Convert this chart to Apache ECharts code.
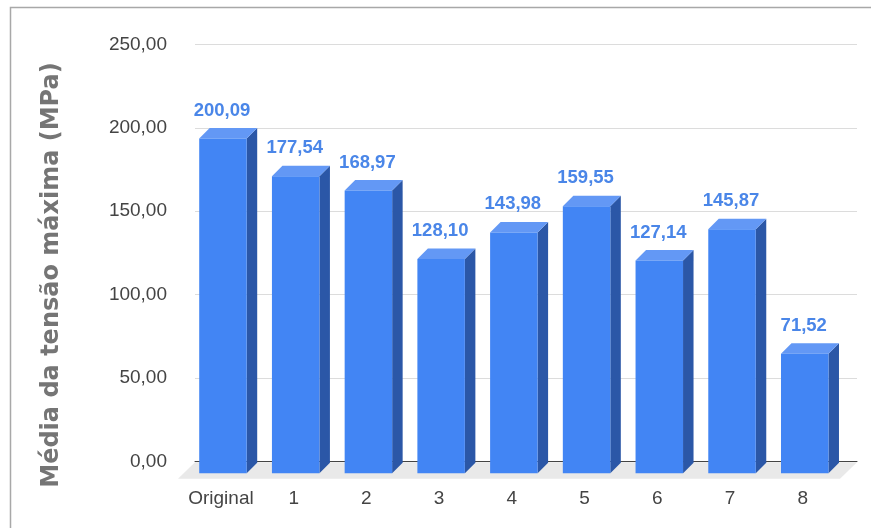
<!DOCTYPE html>
<html>
<head>
<meta charset="utf-8">
<script src="https://cdn.jsdelivr.net/npm/echarts@6/dist/echarts.min.js"></script>
<style>
  html, body { margin: 0; padding: 0; background: #ffffff; }
  #chart { width: 871px; height: 528px; }
</style>
</head>
<body>
<div id="chart"></div>
<script>
// Categories and mean peak stress per sample
const categories = ['Original', '1', '2', '3', '4', '5', '6', '7', '8'];
const values = [200.09, 177.54, 168.97, 128.10, 143.98, 159.55, 127.14, 145.87, 71.52];

// Value axis ticks
const yMin = 0;
const yMax = 250;
const yStep = 50;

const axisTitle = 'Média da tensão máxima (MPa)';

// Bar face colours and depth of the pseudo-3D extrusion
const FRONT = '#4285f4';
const SIDE = '#2b57a7';
const TOP = '#6398f5';
const LABEL_BLUE = '#4a86e8';
const DEPTH_X = 10.5;
const DEPTH_Y = 10.5;

function fmt(v) {
  return v.toFixed(2).replace('.', ',');
}

const chart = echarts.init(document.getElementById('chart'), null, { renderer: 'canvas' });

const option = {
  backgroundColor: '#ffffff',
  animation: false,
  grid: [
    // back wall with the gridlines
    { left: 195, right: 14, top: 44.3, bottom: 66.3 },
    // front plane where the bar faces sit
    { left: 184.6, right: 31.9, top: 55, bottom: 54.7 }
  ],
  xAxis: [
    {
      type: 'category', gridIndex: 0, data: categories,
      axisLine: { show: true, lineStyle: { color: '#444444', width: 1 } },
      axisTick: { show: false }, axisLabel: { show: false }, splitLine: { show: false }
    },
    {
      type: 'category', gridIndex: 1, data: categories,
      axisLine: { show: false }, axisTick: { show: false },
      axisLabel: {
        show: true, interval: 0, margin: 16, color: '#444444',
        fontFamily: 'Liberation Sans, Arial, sans-serif', fontSize: 19
      }
    }
  ],
  yAxis: [
    {
      type: 'value', gridIndex: 0, min: yMin, max: yMax, interval: yStep,
      axisLine: { show: false }, axisTick: { show: false },
      axisLabel: {
        margin: 28, color: '#444444',
        fontFamily: 'Liberation Sans, Arial, sans-serif', fontSize: 19,
        formatter: (v) => fmt(v)
      },
      splitLine: { show: true, lineStyle: { color: '#dcdcdc', width: 1 } }
    },
    {
      type: 'value', gridIndex: 1, min: yMin, max: yMax, interval: yStep, show: false
    }
  ],
  graphic: [
    {
      type: 'rect', z: 0, silent: true,
      shape: { x: 10.5, y: 7.5, width: 1000, height: 1000 },
      style: { fill: 'none', stroke: '#a8a8a8', lineWidth: 1.5 }
    },
    {
      type: 'text', z: 10, silent: true,
      x: 52, y: 275, rotation: Math.PI / 2,
      style: {
        text: axisTitle,
        fill: '#757575',
        font: 'bold 24px "DejaVu Sans", Verdana, sans-serif',
        textAlign: 'center', textVerticalAlign: 'middle'
      }
    }
  ],
  series: [
    {
      // floor under the bars
      type: 'custom', xAxisIndex: 0, yAxisIndex: 0, z: 1, silent: true,
      data: [[0, 0]],
      renderItem: function (params, api) {
        const cs = params.coordSys;
        const yb = cs.y + cs.height + 0.5;
        const dx = 17, dy = 16.5;
        return {
          type: 'polygon',
          shape: {
            points: [
              [cs.x, yb], [cs.x + cs.width, yb],
              [cs.x + cs.width - dx, yb + dy], [cs.x - dx, yb + dy]
            ]
          },
          style: { fill: '#e9e9e9' }
        };
      }
    },
    {
      type: 'custom', xAxisIndex: 1, yAxisIndex: 1, z: 5, silent: true,
      data: values.map((v, i) => [i, v]),
      encode: { x: 0, y: 1 },
      renderItem: function (params, api) {
        const i = api.value(0);
        const v = api.value(1);
        const base = api.coord([i, 0]);
        const top = api.coord([i, v]);
        const slot = api.size([1, 0])[0];
        const w = slot * 0.653;
        const x0 = base[0] - w / 2 + 2;
        const x1 = x0 + w;
        const yb = base[1];
        const yt = top[1];
        const d = DEPTH_X, e = DEPTH_Y;
        return {
          type: 'group',
          children: [
            {
              type: 'polygon',
              shape: { points: [[x1, yt], [x1 + d, yt - e], [x1 + d, yb - e], [x1, yb]] },
              style: { fill: SIDE }
            },
            {
              type: 'polygon',
              shape: { points: [[x0, yt], [x0 + d, yt - e], [x1 + d, yt - e], [x1, yt]] },
              style: { fill: TOP }
            },
            {
              type: 'rect',
              shape: { x: x0, y: yt, width: w, height: yb - yt },
              style: { fill: FRONT }
            },
            {
              type: 'text',
              x: base[0] + 1, y: yt - 28,
              style: {
                text: fmt(v),
                fill: LABEL_BLUE,
                font: 'bold 18.5px "Liberation Sans", Arial, sans-serif',
                textAlign: 'center', textVerticalAlign: 'middle'
              }
            }
          ]
        };
      }
    }
  ]
};

chart.setOption(option);
</script>
</body>
</html>
